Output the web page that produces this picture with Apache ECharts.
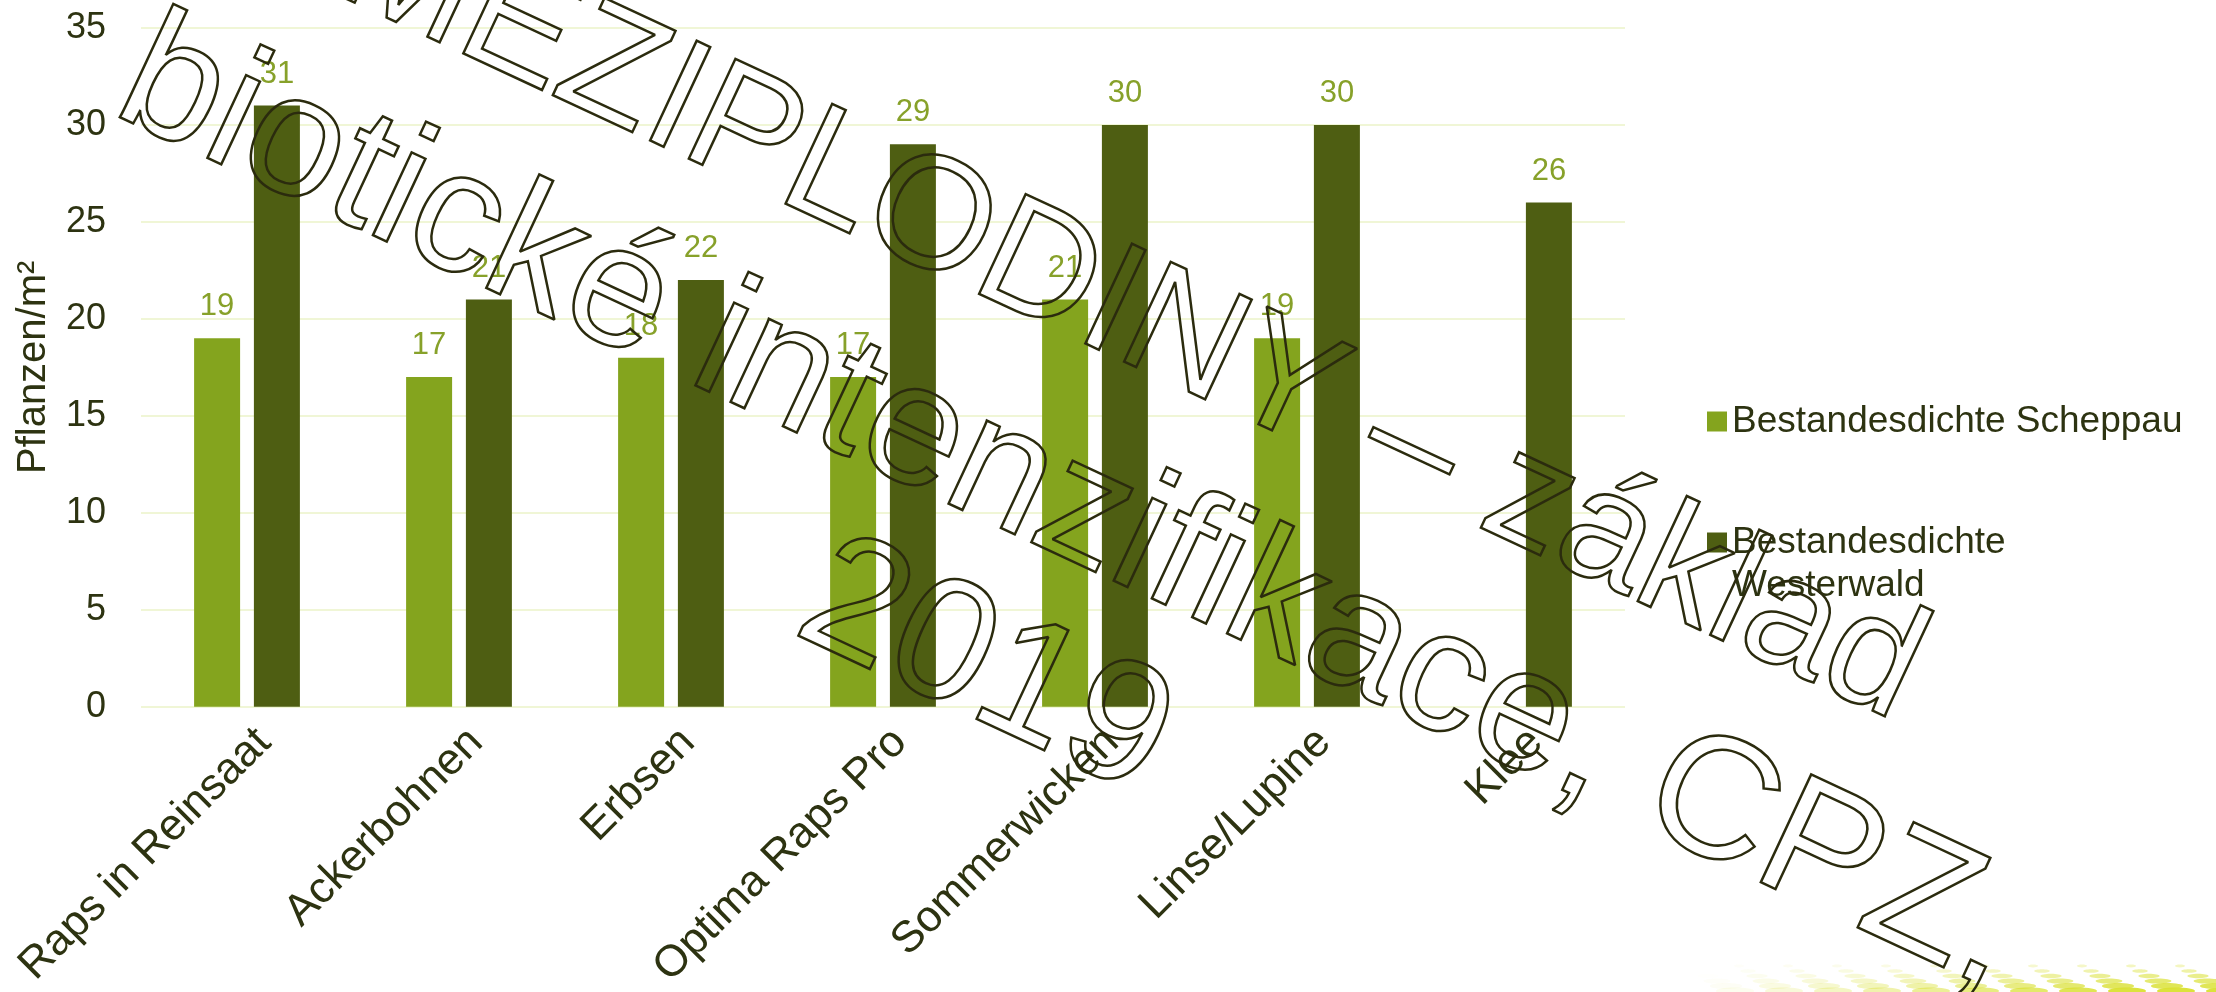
<!DOCTYPE html>
<html>
<head>
<meta charset="utf-8">
<script src="https://cdn.jsdelivr.net/npm/echarts@6/dist/echarts.min.js"></script>
<style>
  html, body { margin: 0; padding: 0; background: #ffffff; }
  #chart { width: 2216px; height: 992px; }
</style>
</head>
<body>
<div id="chart"></div>
<script>
// ---- data ----
const categories = ['Raps in Reinsaat', 'Ackerbohnen', 'Erbsen', 'Optima Raps Pro', 'Sommerwicken', 'Linse/Lupine', 'Klee'];
const seriesNames = ['Bestandesdichte Scheppau', 'Bestandesdichte Westerwald'];
const scheppau = [19, 17, 18, 17, 21, 19, null];
const westerwald = [31, 21, 22, 29, 30, 30, 26];
const yTicks = { min: 0, max: 35, interval: 5 };
const axisTitle = 'Pflanzen/m²';
const watermarkLines = ['MEZIPLODINY – základ', 'biotické intenzifikace, CPZ,', '2019'];

// ---- style ----
const FONT = '"Liberation Sans", Arial, sans-serif';
const DARK_TEXT = '#2d3311';
const LIGHT = '#84a41e';
const DARK = '#4e5e12';
const LABEL = '#87a12a';
const GRID = '#ebf3c9';

// decorative dotted strip at bottom right (slide background ornament)
const decor = [];
for (let r = 0; r < 6; r++) {
  const y = 966 + r * 5;
  for (let x = 1690 + r * 9; x < 2230; x += 49) {
    const fade = Math.min(1, Math.max(0, (x - 1700) / 430));
    decor.push({
      type: 'ellipse',
      shape: { cx: x, cy: y, rx: 5 + r * 2.8, ry: 1.4 + r * 0.4 },
      style: { fill: '#d9e032', opacity: fade * (0.3 + r * 0.13) },
      silent: true, z: 1
    });
  }
}

// watermark (outlined, rotated text lines)
const wmPlacement = [
  { x: 1131, y: 316, size: 160 },
  { x: 1071, y: 508, size: 173 },
  { x: 985, y: 670, size: 173 }
];
const watermark = watermarkLines.map(function (line, i) {
  return {
    type: 'text',
    x: wmPlacement[i].x,
    y: wmPlacement[i].y,
    rotation: -25 * Math.PI / 180,
    silent: true,
    z: 100,
    style: {
      text: line,
      fontFamily: FONT,
      fontSize: wmPlacement[i].size,
      align: 'center',
      verticalAlign: 'middle',
      fill: 'none',
      stroke: '#2b2b0e',
      lineWidth: 2.5
    }
  };
});

const chart = echarts.init(document.getElementById('chart'), null, { renderer: 'canvas' });
chart.setOption({
  backgroundColor: '#ffffff',
  animation: false,
  grid: { left: 141, right: 591, top: 28, bottom: 281, containLabel: false },
  legend: {
    orient: 'vertical',
    left: 1707,
    top: 400,
    padding: 0,
    itemWidth: 20,
    itemHeight: 20,
    itemGap: 35,
    icon: 'rect',
    selectedMode: false,
    textStyle: { fontFamily: FONT, fontSize: 37, color: DARK_TEXT, lineHeight: 43 },
    formatter: function (name) {
      // second entry wraps; a leading empty line keeps the first text line level with the marker
      return name === seriesNames[1] ? '\n' + name.replace(' ', '\n') : name;
    },
    data: seriesNames
  },
  xAxis: {
    type: 'category',
    data: categories,
    axisLine: { show: false },
    axisTick: { show: false },
    axisLabel: {
      interval: 0,
      rotate: 45,
      margin: 46,
      padding: [0, -24, 0, 0],
      fontFamily: FONT,
      fontSize: 44,
      color: DARK_TEXT
    }
  },
  yAxis: {
    type: 'value',
    min: yTicks.min,
    max: yTicks.max,
    interval: yTicks.interval,
    name: axisTitle,
    nameLocation: 'middle',
    nameRotate: 90,
    nameGap: 87,
    nameTextStyle: { fontFamily: FONT, fontSize: 40, color: DARK_TEXT },
    axisLine: { show: false },
    axisTick: { show: false },
    axisLabel: { margin: 35, fontFamily: FONT, fontSize: 36, color: DARK_TEXT },
    splitLine: { show: true, lineStyle: { color: GRID, width: 1.5 } }
  },
  series: [
    {
      name: seriesNames[0],
      type: 'bar',
      data: scheppau,
      barWidth: 46,
      barGap: '30%',
      itemStyle: { color: LIGHT },
      label: { show: true, position: 'top', distance: 16, fontFamily: FONT, fontSize: 31, color: LABEL }
    },
    {
      name: seriesNames[1],
      type: 'bar',
      data: westerwald,
      barWidth: 46,
      barGap: '30%',
      itemStyle: { color: DARK },
      label: { show: true, position: 'top', distance: 16, fontFamily: FONT, fontSize: 31, color: LABEL }
    }
  ],
  graphic: [
    { type: 'group', silent: true, children: decor },
    { type: 'group', silent: true, children: watermark }
  ]
});
</script>
</body>
</html>
